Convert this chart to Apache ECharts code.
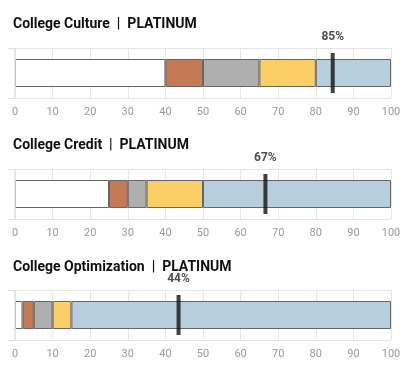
<!DOCTYPE html>
<html><head><meta charset="utf-8">
<script src="https://cdn.jsdelivr.net/npm/echarts@6/dist/echarts.min.js"></script>
<style>html,body{margin:0;padding:0;background:#fff}#c{width:411px;height:387px}</style>
</head><body><div id="c"></div>
<script>
var titles = ["College Culture  |  PLATINUM", "College Credit  |  PLATINUM", "College Optimization  |  PLATINUM"];
// segment widths: white, brown, gray, yellow, blue
var whiteSeg = [40, 25, 2];
var brownSeg = [10, 5, 3];
var graySeg = [15, 5, 5];
var yellowSeg = [15, 15, 5];
var blueSeg = [20, 50, 85];
var markerValues = [84.5, 66.6, 43.5];
var markerLabels = ["85%", "67%", "44%"];
var xTicks = [0, 10, 20, 30, 40, 50, 60, 70, 80, 90, 100];

var segNames = ["white", "brown", "gray", "yellow", "blue"];
var segData = [whiteSeg, brownSeg, graySeg, yellowSeg, blueSeg];
var segColors = ["#ffffff", "#C47A55", "#AFAFAF", "#FCCE66", "#B7CFDC"];

var gridTops = [48, 169, 290];
var titleTops = [12, 133, 255];
var option = {
  animation: false,
  title: [], grid: [], xAxis: [], yAxis: [], series: []
};
for (var i = 0; i < 3; i++) {
  option.title.push({text: titles[i], left: 8, top: titleTops[i],
    textStyle: {fontFamily: "Roboto", fontWeight: "bold", fontSize: 14, color: "#111"}});
  option.grid.push({left: 15, right: 20, top: gridTops[i], height: 50});
  option.xAxis.push({type: "value", gridIndex: i, min: xTicks[0], max: xTicks[xTicks.length - 1], interval: 10,
    axisLine: {show: false}, axisTick: {show: false},
    splitLine: {show: true, lineStyle: {color: "#e6e6e6", width: 1}},
    axisLabel: {color: "#9a9a9a", fontSize: 11, fontFamily: "Roboto", margin: 9}});
  option.yAxis.push({type: "category", gridIndex: i, data: ["v"],
    axisLine: {show: false}, axisLabel: {show: false},
    axisTick: {show: true, length: 7, lineStyle: {color: "#e0e0e0"}},
    splitLine: {show: true, lineStyle: {color: "#e6e6e6"}}});
  for (var s = 0; s < 5; s++) {
    var ser = {type: "bar", name: segNames[s], xAxisIndex: i, yAxisIndex: i, stack: "st" + i,
      barWidth: 28, data: [segData[s][i]],
      itemStyle: {color: segColors[s], borderColor: "#666", borderWidth: 1}};
    if (s === 0) {
      ser.markLine = {silent: true, symbol: "none", label: {show: false},
        lineStyle: {color: "#e2e2e2", type: "solid", width: 1.5},
        data: [{xAxis: xTicks[0]}]};
    }
    option.series.push(ser);
  }
  option.series.push({type: "scatter", xAxisIndex: i, yAxisIndex: i, z: 5,
    symbol: "rect", symbolSize: [4, 40], data: [[markerValues[i], 0]],
    itemStyle: {color: "#111"},
    label: {show: true, position: "top", distance: 10, formatter: markerLabels[i],
      fontFamily: "Roboto", fontWeight: "bold", fontSize: 12, color: "#222"}});
}
var chart = echarts.init(document.getElementById("c"), null, {renderer: "canvas"});
chart.setOption(option);
</script></body></html>
